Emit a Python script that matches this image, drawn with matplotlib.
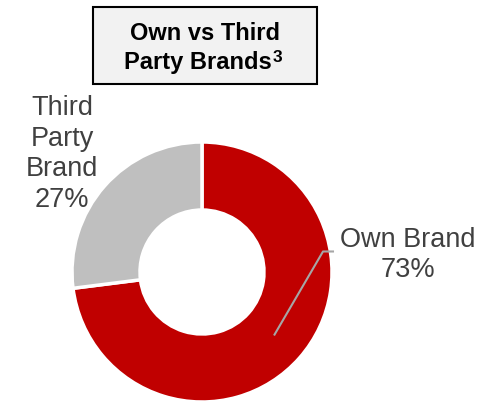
import matplotlib.pyplot as plt
import numpy as np
from matplotlib.patches import Rectangle

plt.rcParams['font.family'] = ['Liberation Sans', 'DejaVu Sans']

labels = ['Own Brand', 'Third\nParty\nBrand']
shares = [73, 27]
colors = ['#C00000', '#BFBFBF']
title_lines = ['Own vs Third', 'Party Brands']
footnote = '3'

W, H = 492, 402
fig = plt.figure(figsize=(W / 100, H / 100), dpi=100)
ax = fig.add_axes([0, 0, 1, 1])
ax.set_xlim(0, W)
ax.set_ylim(H, 0)
ax.axis('off')

# donut (pie needs normal y orientation, so draw on a twin axes)
pax = fig.add_axes([0, 0, 1, 1])
cx, cy, R, r_in = 202, H - 273, 130, 62
wedges, _ = pax.pie(shares, colors=colors, startangle=90, counterclock=False,
                    center=(cx, cy), radius=R, frame=True,
                    wedgeprops=dict(width=R - r_in, edgecolor='white', linewidth=2.5))
pax.set_xlim(0, W)
pax.set_ylim(0, H)
pax.axis('off')

txt = '#404040'
# own brand label with leader line
mid = np.deg2rad(90 - 360 * shares[0] / 100 / 2)
rm = (R + r_in) / 2
ax0, ay0 = cx + rm * np.cos(mid), cy + rm * np.sin(mid)
elbow = (ax0 + 49, ay0 + 84)
pax.plot([ax0, elbow[0], elbow[0] + 11], [ay0, elbow[1], elbow[1]],
         color='#A6A6A6', lw=1.5, solid_capstyle='butt')
pax.text(408, H - 255, f'{labels[0]}\n{shares[0]}%', ha='center', va='center',
         fontsize=19.5, color=txt, linespacing=1.22)

# third party label
pax.text(62, H - 154, f'{labels[1]}\n{shares[1]}%',
         ha='center', va='center', fontsize=19.5, color=txt, linespacing=1.22)

# title box
ax.add_patch(Rectangle((93, 8), 224, 77, facecolor='#F2F2F2', edgecolor='black', lw=1.5))
ax.text(205, 34, title_lines[0], ha='center', va='center', fontsize=17,
        fontweight='bold', color='black')
t2 = ax.text(198, 62, title_lines[1], ha='center', va='center', fontsize=17,
             fontweight='bold', color='black')
ax.annotate(footnote, xy=(1, 1.0), xycoords=t2, xytext=(0.5, 0), textcoords='offset points',
            ha='left', va='top', fontsize=12.5, fontweight='bold', color='black')

fig.savefig('out.png', dpi=100)
